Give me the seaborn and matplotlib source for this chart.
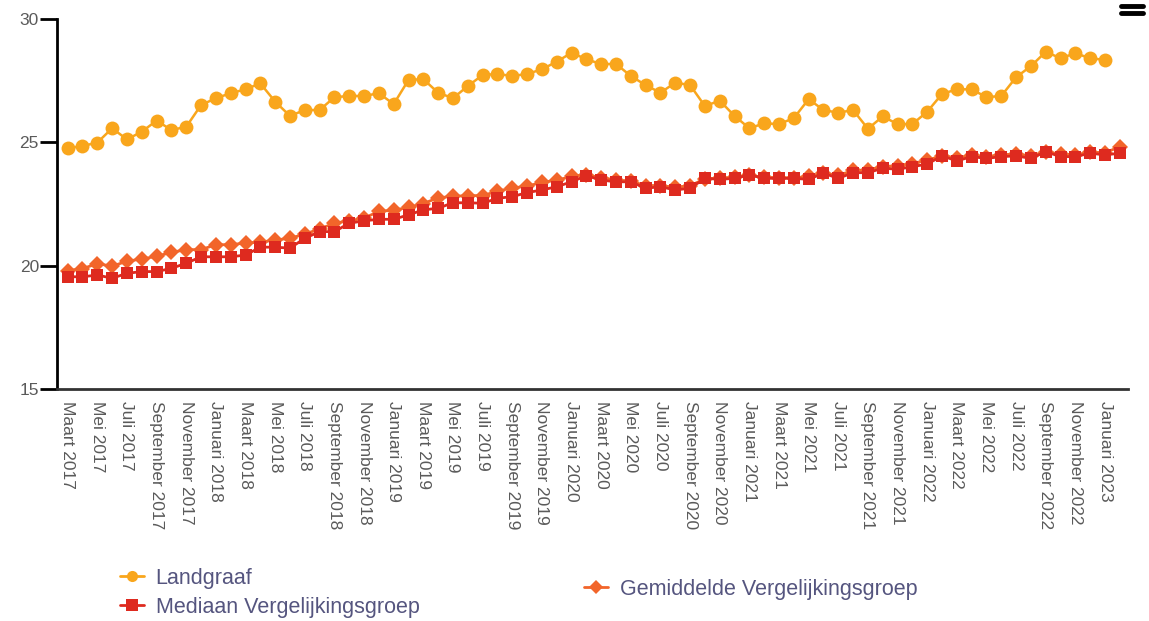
import matplotlib
matplotlib.use("Agg")
import matplotlib.pyplot as plt
import pandas as pd
import seaborn as sns
import numpy as np

# Monthly data, Maart 2017 .. Februari 2023
month_names = ['Januari', 'Februari', 'Maart', 'April', 'Mei', 'Juni', 'Juli',
               'Augustus', 'September', 'Oktober', 'November', 'December']

landgraaf = [24.76, 24.85, 24.99, 25.57, 25.12, 25.43, 25.88, 25.50, 25.63, 26.51,
             26.79, 26.99, 27.15, 27.39, 26.65, 26.07, 26.31, 26.31, 26.83, 26.88,
             26.88, 26.99, 26.55, 27.53, 27.56, 27.01, 26.79, 27.28, 27.73, 27.77,
             27.69, 27.77, 27.96, 28.27, 28.63, 28.37, 28.17, 28.18, 27.69, 27.32,
             27.01, 27.42, 27.32, 26.47, 26.69, 26.07, 25.57, 25.77, 25.74, 25.98,
             26.75, 26.31, 26.20, 26.31, 25.55, 26.05, 25.74, 25.74, 26.24, 26.96,
             27.15, 27.15, 26.83, 26.88, 27.64, 28.09, 28.67, 28.41, 28.61, 28.41,
             28.34]

mediaan = [19.55, 19.55, 19.62, 19.49, 19.69, 19.76, 19.76, 19.89, 20.10, 20.36,
           20.36, 20.36, 20.43, 20.75, 20.75, 20.71, 21.11, 21.38, 21.38, 21.72,
           21.82, 21.88, 21.88, 22.06, 22.26, 22.33, 22.55, 22.55, 22.53, 22.73,
           22.80, 22.96, 23.07, 23.20, 23.40, 23.65, 23.47, 23.40, 23.40, 23.14,
           23.20, 23.07, 23.14, 23.54, 23.50, 23.54, 23.68, 23.54, 23.54, 23.54,
           23.50, 23.75, 23.54, 23.77, 23.77, 23.95, 23.91, 24.01, 24.12, 24.45,
           24.25, 24.42, 24.35, 24.42, 24.45, 24.35, 24.62, 24.42, 24.42, 24.56,
           24.49, 24.56]

gemiddelde = [19.80, 19.88, 20.08, 19.98, 20.18, 20.27, 20.38, 20.54, 20.65, 20.65,
              20.85, 20.85, 20.92, 20.95, 21.04, 21.11, 21.28, 21.49, 21.72, 21.82,
              21.93, 22.20, 22.25, 22.36, 22.52, 22.75, 22.81, 22.84, 22.84, 23.02,
              23.15, 23.22, 23.38, 23.46, 23.62, 23.69, 23.56, 23.48, 23.42, 23.25,
              23.24, 23.18, 23.24, 23.52, 23.55, 23.58, 23.66, 23.58, 23.57, 23.56,
              23.62, 23.76, 23.66, 23.86, 23.88, 24.02, 24.05, 24.14, 24.28, 24.45,
              24.38, 24.47, 24.42, 24.50, 24.52, 24.46, 24.62, 24.52, 24.50, 24.60,
              24.58, 24.82]

# month labels (every month), only every second one shown on the axis
labels = []
m, y = 3, 2017
for i in range(len(mediaan)):
    labels.append(f"{month_names[m - 1]} {y}")
    m += 1
    if m > 12:
        m, y = 1, y + 1

df_land = pd.DataFrame({'idx': range(len(landgraaf)), 'value': landgraaf})
df_med = pd.DataFrame({'idx': range(len(mediaan)), 'value': mediaan})
df_gem = pd.DataFrame({'idx': range(len(gemiddelde)), 'value': gemiddelde})

c_land = '#F9A61C'
c_med = '#DE2A1F'
c_gem = '#F2652A'
txt_col = '#55557F'
tick_col = '#5A5A5A'

sns.set_style('white')
plt.rcParams['font.family'] = ['Liberation Sans', 'DejaVu Sans']

fig = plt.figure(figsize=(11.49, 6.21), dpi=100)
ax = fig.add_axes([57 / 1149, 1 - 389 / 621, (1128 - 57) / 1149, (389 - 19) / 621])

sns.lineplot(data=df_gem, x='idx', y='value', ax=ax, color=c_gem, lw=2,
             marker='D', markersize=8, markeredgewidth=0, zorder=2)
sns.lineplot(data=df_med, x='idx', y='value', ax=ax, color=c_med, lw=2,
             marker='s', markersize=9, markeredgewidth=0, zorder=3)
sns.lineplot(data=df_land, x='idx', y='value', ax=ax, color=c_land, lw=1.8,
             marker='o', markersize=10, markeredgewidth=0, zorder=4)

ax.set_xlim(-0.72, 71.55)
ax.set_ylim(15, 30)
ax.set_yticks([15, 20, 25, 30])
ax.set_xticks(range(0, len(mediaan), 2))
ax.set_xticklabels(labels[::2], rotation=270, va='top', ha='center')
ax.set_xlabel('')
ax.set_ylabel('')

ax.tick_params(axis='y', which='both', left=True, length=12, width=2, color='black',
               pad=1, labelsize=12.5, labelcolor=tick_col)
ax.tick_params(axis='x', bottom=False, pad=5, labelsize=12.5, labelcolor=tick_col)

for s in ['top', 'right']:
    ax.spines[s].set_visible(False)
ax.spines['left'].set_color('black')
ax.spines['left'].set_linewidth(2)
ax.spines['bottom'].set_color('#333333')
ax.spines['bottom'].set_linewidth(2)

# legend (two blocks, as in the original)
h_land = plt.Line2D([], [], color=c_land, lw=2, marker='o', markersize=8, markeredgewidth=0)
h_med = plt.Line2D([], [], color=c_med, lw=2, marker='s', markersize=8, markeredgewidth=0)
h_gem = plt.Line2D([], [], color=c_gem, lw=2, marker='D', markersize=7, markeredgewidth=0)

leg1 = fig.legend([h_land, h_med], ['Landgraaf', 'Mediaan Vergelijkingsgroep'],
                  loc='upper left', bbox_to_anchor=(120 / 1149, 1 - 568 / 621),
                  frameon=False, fontsize=15.5, labelcolor=txt_col, handlelength=1.1,
                  handletextpad=0.55, labelspacing=0.35, borderpad=0, borderaxespad=0)
leg2 = fig.legend([h_gem], ['Gemiddelde Vergelijkingsgroep'],
                  loc='center left', bbox_to_anchor=(584 / 1149, 1 - 589 / 621),
                  frameon=False, fontsize=15.5, labelcolor=txt_col, handlelength=1.1,
                  handletextpad=0.55, borderpad=0, borderaxespad=0)

# export menu icon top right
for yy in [6, 13]:
    fig.add_artist(plt.Line2D([1121 / 1149, 1143 / 1149], [1 - yy / 621, 1 - yy / 621],
                              color='black', lw=3.5, transform=fig.transFigure))

fig.savefig('out.png', dpi=100)
